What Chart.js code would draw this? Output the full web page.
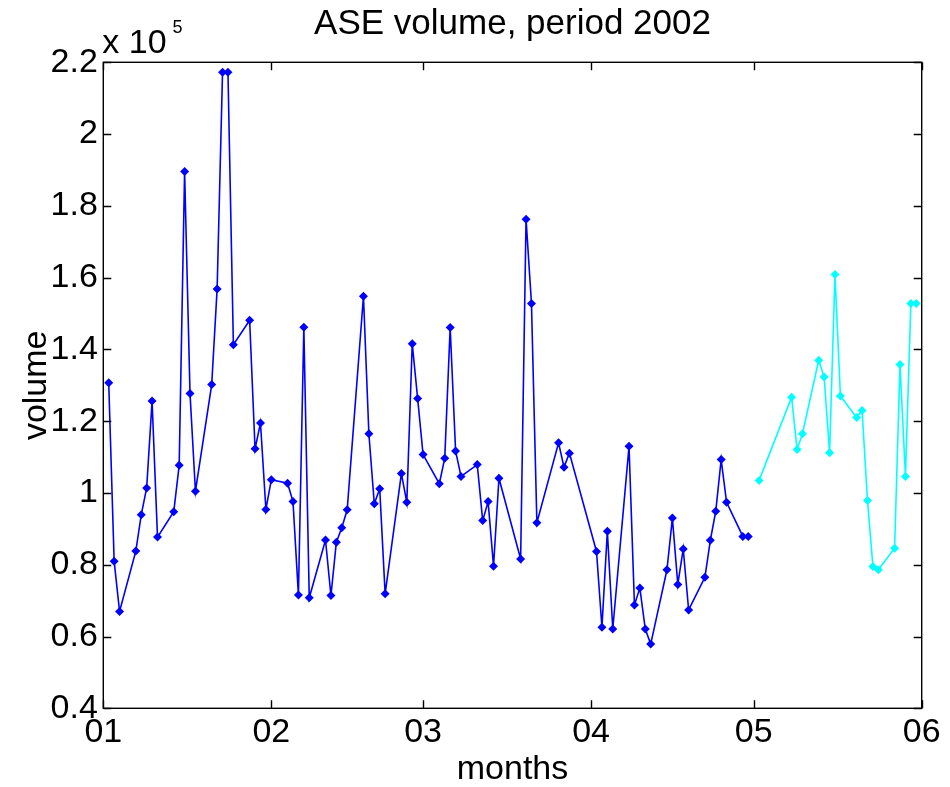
<!DOCTYPE html>
<html>
<head>
<meta charset="utf-8">
<title>ASE volume, period 2002</title>
<script src="https://cdn.jsdelivr.net/npm/chart.js@4.4.1/dist/chart.umd.min.js"></script>
<style>
  html, body { margin: 0; padding: 0; background: #ffffff; }
  canvas { display: block; }
</style>
</head>
<body>
<canvas id="volchart" width="950" height="787"></canvas>
<script>
// trading days, counted in days from 1 January 2002
const janAprDays = [1, 2, 3, 6, 7, 8, 9, 10, 13, 14, 15, 16, 17, 20, 21, 22, 23, 24,
  27, 28, 29, 30, 31, 34, 35, 36, 37, 38, 41, 42, 43, 44, 45, 48, 49, 50, 51, 52,
  55, 56, 57, 58, 59, 62, 63, 64, 65, 66, 69, 70, 71, 72, 73, 77, 78, 79, 80,
  84, 85, 86, 91, 92, 93, 94, 97, 98, 99, 100, 101, 104, 105, 106, 107, 108,
  111, 112, 113, 114, 115, 118, 119];
// volume in units of 10^5
const janAprVolume = [1.307, 0.81, 0.67, 0.838, 0.939, 1.014, 1.256, 0.877, 0.948, 1.077,
  1.896, 1.277, 1.005, 1.302, 1.568, 2.172, 2.172, 1.413, 1.481, 1.123, 1.195, 0.954,
  1.037, 1.027, 0.976, 0.716, 1.462, 0.708, 0.869, 0.714, 0.863, 0.903, 0.953, 1.548,
  1.165, 0.970, 1.012, 0.719, 1.054, 0.974, 1.416, 1.263, 1.107, 1.026, 1.097, 1.461,
  1.117, 1.046, 1.079, 0.923, 0.976, 0.796, 1.041, 0.816, 1.763, 1.528, 0.917, 1.14,
  1.072, 1.111, 0.837, 0.626, 0.893, 0.621, 1.130, 0.688, 0.735, 0.621, 0.579, 0.786,
  0.930, 0.745, 0.844, 0.674, 0.765, 0.868, 0.949, 1.093, 0.974, 0.879, 0.879];

const mayDays = [121, 127, 128, 129, 132, 133, 134, 135, 136, 139, 140, 141, 142, 143,
  146, 147, 148, 149, 150];
const mayVolume = [1.035, 1.267, 1.121, 1.165, 1.370, 1.323, 1.112, 1.609, 1.270, 1.210,
  1.230, 0.979, 0.795, 0.786, 0.846, 1.358, 1.046, 1.528, 1.528];

// first day of each month and its label
const monthStarts = [0, 31, 59, 90, 120, 151];
const monthLabels = ['01', '02', '03', '04', '05', '06'];

const FONT = '"Liberation Sans", Arial, Helvetica, sans-serif';
Chart.defaults.font.family = FONT;
Chart.defaults.color = '#000';

function toPoints(days, vals) {
  return days.map((d, i) => ({ x: d, y: vals[i] }));
}

// matlab style box with inward ticks and the x 10^5 factor
const matlabBox = {
  id: 'matlabBox',
  afterDatasetsDraw(chart) {
    const { ctx, chartArea: a, scales: { x, y } } = chart;
    const len = 8;
    ctx.save();
    ctx.strokeStyle = '#000';
    ctx.lineWidth = 1.4;
    ctx.strokeRect(a.left, a.top, a.right - a.left, a.bottom - a.top);
    ctx.beginPath();
    x.ticks.forEach(t => {
      const px = Math.round(x.getPixelForValue(t.value)) + 0.5;
      ctx.moveTo(px, a.bottom); ctx.lineTo(px, a.bottom - len);
      ctx.moveTo(px, a.top); ctx.lineTo(px, a.top + len);
    });
    y.ticks.forEach(t => {
      const py = Math.round(y.getPixelForValue(t.value)) + 0.5;
      ctx.moveTo(a.left, py); ctx.lineTo(a.left + len, py);
      ctx.moveTo(a.right, py); ctx.lineTo(a.right - len, py);
    });
    ctx.stroke();

    ctx.fillStyle = '#000';
    ctx.textBaseline = 'alphabetic';
    ctx.textAlign = 'left';
    ctx.font = '34px ' + FONT;
    ctx.fillText('x 10', a.left - 1, a.top - 9);
    const w = ctx.measureText('x 10').width;
    ctx.font = '18px ' + FONT;
    ctx.fillText('5', a.left + w + 5, a.top - 29);
    ctx.restore();
  }
};

new Chart(document.getElementById('volchart'), {
  type: 'line',
  data: {
    datasets: [{
      label: 'Jan-Apr',
      data: toPoints(janAprDays, janAprVolume),
      borderColor: '#0000ff',
      backgroundColor: '#0000ff',
      borderWidth: 1.6,
      pointStyle: 'rectRot',
      pointRadius: 4.5,
      pointBorderWidth: 0,
      tension: 0
    }, {
      label: 'May',
      data: toPoints(mayDays, mayVolume),
      borderColor: '#00ffff',
      backgroundColor: '#00ffff',
      borderWidth: 1.6,
      pointStyle: 'rectRot',
      pointRadius: 4.5,
      pointBorderWidth: 0,
      tension: 0
    }]
  },
  options: {
    responsive: false,
    animation: false,
    events: [],
    layout: { padding: { left: 0, right: 28.3, top: 0, bottom: 0 } },
    plugins: {
      legend: { display: false },
      tooltip: { enabled: false },
      title: {
        display: true,
        text: 'ASE volume, period 2002',
        fullSize: false,
        font: { size: 35, weight: 'normal', lineHeight: 1.2 },
        padding: { top: 3.5, bottom: 16.8 }
      }
    },
    scales: {
      x: {
        type: 'linear',
        min: 0,
        max: 151,
        grid: { display: false, drawTicks: false },
        border: { display: false },
        afterBuildTicks: scale => {
          scale.ticks = monthStarts.map(v => ({ value: v }));
        },
        afterFit: scale => { scale.height = 78.7; },
        ticks: {
          padding: 3.5,
          maxRotation: 0,
          autoSkip: false,
          font: { size: 34, lineHeight: 1.2 },
          callback: (v, i) => monthLabels[i]
        },
        title: {
          display: true,
          text: 'months',
          font: { size: 34, lineHeight: 1 },
          padding: { top: 0, bottom: 0 }
        }
      },
      y: {
        min: 0.4,
        max: 2.2,
        grid: { display: false, drawTicks: false },
        border: { display: false },
        afterFit: scale => { scale.width = 103.3; },
        ticks: {
          stepSize: 0.2,
          padding: 5.5,
          font: { size: 34, lineHeight: 1.2 },
          callback: v => String(Number(v.toFixed(1)))
        },
        title: {
          display: true,
          text: 'volume',
          font: { size: 34, lineHeight: 1 },
          padding: { top: 20, bottom: 0 }
        }
      }
    }
  },
  plugins: [matlabBox]
});
</script>
</body>
</html>
